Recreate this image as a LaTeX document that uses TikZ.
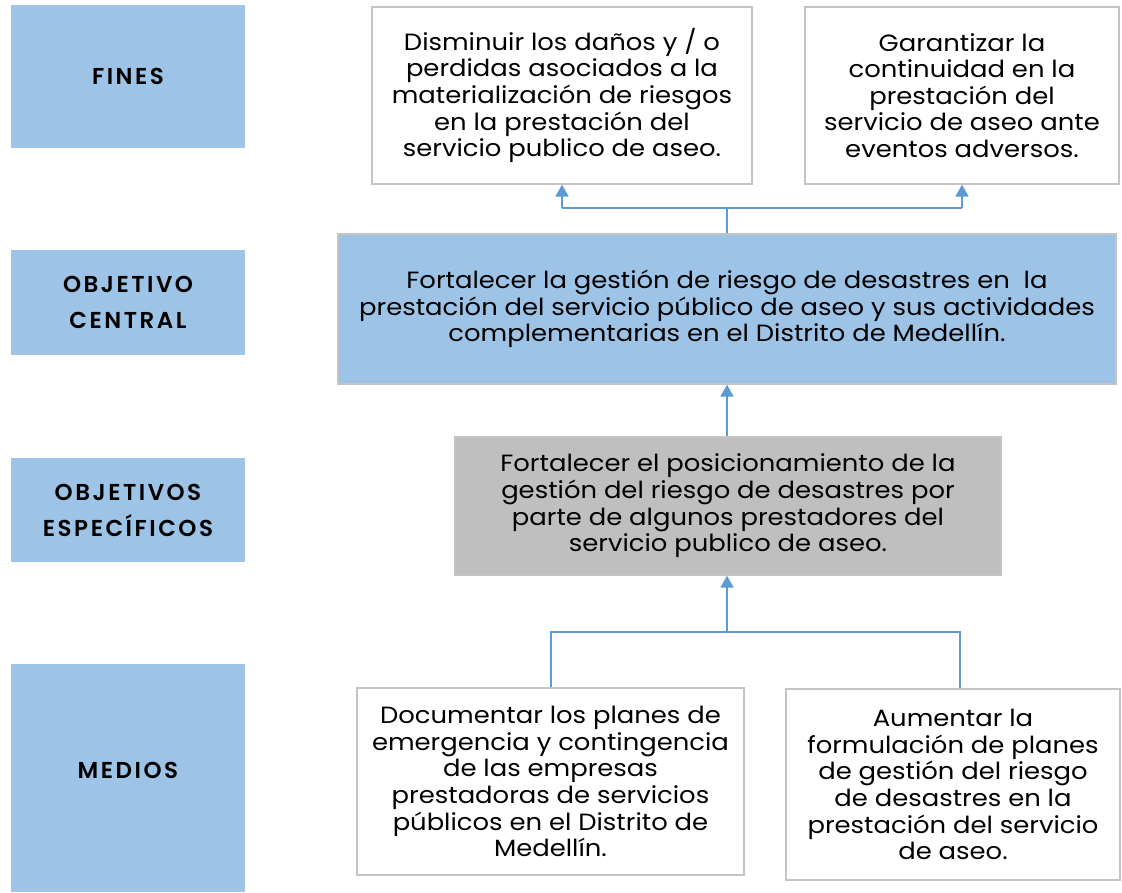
\documentclass[tikz,border=0pt]{standalone}
\usepackage{fontspec}
\setmainfont[FakeStretch=1.1]{Poppins}
\newfontfamily\lblfont[LetterSpace=11]{Poppins SemiBold}
\usetikzlibrary{arrows.meta}
\definecolor{lblue}{HTML}{9DC3E6}
\definecolor{ablue}{HTML}{5B9BD5}
\definecolor{gbox}{HTML}{BFBFBF}
\definecolor{gline}{HTML}{C4C4C4}
\tikzset{
  lbl/.style={fill=lblue, draw=none, inner sep=0pt, align=center, font=\lblfont\fontsize{23}{36}\selectfont},
  wbox/.style={draw=gline, line width=1.3pt, fill=white, inner sep=0pt, align=center, font=\fontsize{23.5}{26.6}\selectfont},
  arr/.style={draw=ablue, line width=1.7pt, -{Triangle[width=13pt,length=12pt]}},
  ln/.style={draw=ablue, line width=1.7pt},
}
\begin{document}
\begin{tikzpicture}[x=1pt,y=-1pt]
\useasboundingbox (0,0) rectangle (1122,892);
% left labels
\node[lbl, minimum width=234pt, minimum height=143pt] (lf) at (128,76.5) {FINES};
\node[lbl, minimum width=234pt, minimum height=105pt] (lo) at (128,302.5) {OBJETIVO\\CENTRAL};
\node[lbl, minimum width=234pt, minimum height=104pt] (le) at (128,510) {OBJETIVOS\\ESPECÍFICOS};
\node[lbl, minimum width=234pt, minimum height=228pt] (lm) at (128,778) {\raisebox{15pt}{MEDIOS}};
% fines
\node[wbox, minimum width=380pt, minimum height=177pt] (f1) at (562,95.5) {Disminuir los daños y / o\\perdidas asociados a la\\materialización de riesgos\\en la prestación del\\servicio publico de aseo.};
\node[wbox, minimum width=314pt, minimum height=177pt] (f2) at (962,95.5) {Garantizar la\\continuidad en la\\prestación del\\servicio de aseo ante\\eventos adversos.};
% central
\node[wbox, fill=lblue, minimum width=778pt, minimum height=150pt] (c) at (727,309) {Fortalecer la gestión de riesgo de desastres en~ la\\prestación del servicio público de aseo y sus actividades\\complementarias en el Distrito de Medellín.};
% specific
\node[wbox, fill=gbox, minimum width=546pt, minimum height=138pt] (s) at (728,506) {Fortalecer el posicionamiento de la\\gestión del riesgo de desastres por\\parte de algunos prestadores del\\servicio publico de aseo.};
% medios
\node[wbox, minimum width=387pt, minimum height=187pt] (m1) at (550.5,781.5) {Documentar los planes de\\emergencia y contingencia\\de las empresas\\prestadoras de servicios\\públicos en el Distrito de\\Medellín.};
\node[wbox, minimum width=334pt, minimum height=191pt] (m2) at (953,784.5) {Aumentar la\\formulación de planes\\de gestión del riesgo\\de desastres en la\\prestación del servicio\\de aseo.};
% connectors
\coordinate (j1) at (727,208);
\coordinate (a1) at (562,208);
\coordinate (a2) at (962,208);
\draw[ln] (c.north -| j1) -- (j1);
\draw[ln] (a1) -- (a2);
\draw[arr] (a1) -- (f1.south -| a1);
\draw[arr] (a2) -- (f2.south -| a2);
\draw[arr] (s.north -| j1) -- (c.south -| j1);
\coordinate (j2) at (727,632);
\coordinate (b1) at (551,632);
\coordinate (b2) at (960,632);
\draw[ln] (m1.north -| b1) -- (b1) -- (b2) -- (m2.north -| b2);
\draw[arr] (j2) -- (s.south -| j2);
\end{tikzpicture}
\end{document}
